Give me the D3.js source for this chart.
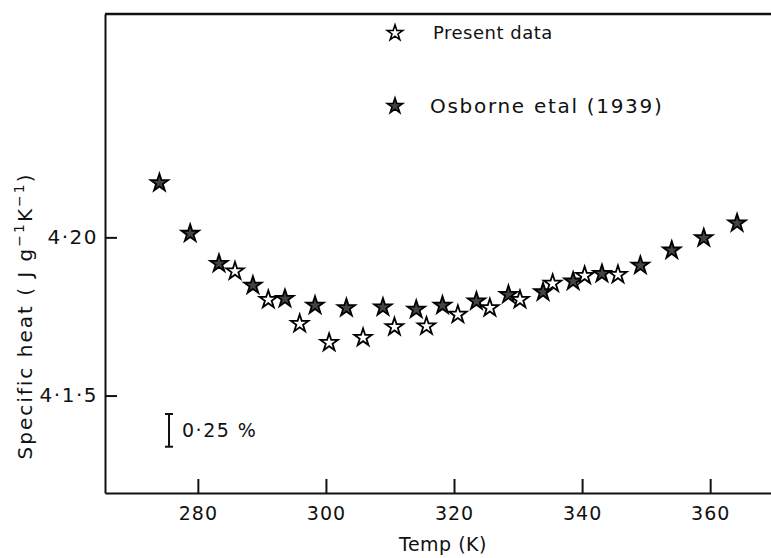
<!DOCTYPE html>
<html>
<head>
<meta charset="utf-8">
<script src="https://cdn.jsdelivr.net/npm/d3@7"></script>
<style>
  body { margin: 0; background: #fff; }
  svg text { font-family: "DejaVu Sans", sans-serif; fill: #111; }
</style>
</head>
<body>
<div class="canvas"></div>
<script>
const dimensions = { width: 771, height: 558 };

// data
const presentT = [285.8, 291.0, 295.9, 300.5, 305.8, 310.7, 315.7, 320.6, 325.6, 330.3, 335.4, 340.4, 345.6];
const presentCp = [4.1893, 4.1803, 4.1727, 4.1667, 4.1683, 4.1717, 4.1719, 4.1756, 4.1777, 4.1803, 4.1854, 4.1879, 4.1882];
const osborneT = [274.0, 278.8, 283.3, 288.6, 293.6, 298.3, 303.2, 308.9, 314.1, 318.2, 323.5, 328.5, 333.9, 338.6, 343.1, 349.1, 354.0, 359.0, 364.2];
const osborneCp = [4.2172, 4.2012, 4.1917, 4.1848, 4.1806, 4.1785, 4.1777, 4.1779, 4.1772, 4.1785, 4.1798, 4.1819, 4.1827, 4.1861, 4.1885, 4.1911, 4.1959, 4.1998, 4.2045];
const xTicks = [280, 300, 320, 340, 360];
const yTicks = [4.20, 4.15];
const yTickLabels = ['4·20', '4·1·5'];
const legendLabels = ['Present data', 'Osborne etal (1939)'];
const errorCentre = 4.139;
const errorPct = 0.25;

const present = presentT.map((t, i) => ({ t, cp: presentCp[i] }));
const osborne = osborneT.map((t, i) => ({ t, cp: osborneCp[i] }));

const svg = d3.select('.canvas')
    .append('svg')
    .attr('width', dimensions.width)
    .attr('height', dimensions.height);

const x = d3.scaleLinear().domain([265.5, 369.5]).range([105, 771]);
const y = d3.scaleLinear().domain([4.1192, 4.2706]).range([493, 14]);

// axes, ticks pointing inward
const xAxis = svg.append('g')
    .attr('transform', `translate(0, ${y.range()[0]})`)
    .call(d3.axisBottom(x).tickValues(xTicks).tickSize(-14).tickSizeOuter(0).tickPadding(14));

const yAxis = svg.append('g')
    .attr('transform', `translate(${x.range()[0]}, 0)`)
    .call(d3.axisLeft(y).tickValues(yTicks).tickSize(-12).tickSizeOuter(0).tickPadding(7)
        .tickFormat((d, i) => yTickLabels[i]));

[xAxis, yAxis].forEach(a => {
    a.selectAll('path, line').attr('stroke', '#111').attr('stroke-width', 2);
    a.selectAll('text').attr('fill', '#111')
        .attr('font-family', '"DejaVu Sans", sans-serif');
});
xAxis.selectAll('text').attr('font-size', 19).attr('letter-spacing', 1);
yAxis.selectAll('text').attr('font-size', 20).attr('letter-spacing', 1.5);

// top border
svg.append('line')
    .attr('x1', x.range()[0]).attr('x2', x.range()[1])
    .attr('y1', y.range()[1]).attr('y2', y.range()[1])
    .attr('stroke', '#111').attr('stroke-width', 2.5);

// axis titles
svg.append('text')
    .attr('x', 443).attr('y', 551)
    .attr('text-anchor', 'middle')
    .attr('font-size', 19)
    .attr('letter-spacing', 0.5)
    .text('Temp (K)');

const yTitle = svg.append('text')
    .attr('transform', 'translate(32, 316) rotate(-90)')
    .attr('text-anchor', 'middle')
    .attr('font-size', 20)
    .attr('letter-spacing', 2);
yTitle.append('tspan').text('Specific heat ( J g');
yTitle.append('tspan').attr('font-size', 14).attr('dy', -8).text('−1');
yTitle.append('tspan').attr('dy', 8).text('K');
yTitle.append('tspan').attr('font-size', 14).attr('dy', -8).text('−1');
yTitle.append('tspan').attr('dy', 8).text(')');

// star markers
const star = d3.symbol().type(d3.symbolStar).size(95);

svg.selectAll('.osborne')
    .data(osborne)
    .enter()
    .append('path')
        .attr('class', 'osborne')
        .attr('d', star)
        .attr('transform', d => `translate(${x(d.t)}, ${y(d.cp)})`)
        .attr('fill', '#444')
        .attr('stroke', '#000')
        .attr('stroke-width', 1.8);

svg.selectAll('.present')
    .data(present)
    .enter()
    .append('path')
        .attr('class', 'present')
        .attr('d', star)
        .attr('transform', d => `translate(${x(d.t)}, ${y(d.cp)})`)
        .attr('fill', '#fff')
        .attr('stroke', '#000')
        .attr('stroke-width', 1.8);

// legend
const legendStar = d3.symbol().type(d3.symbolStar).size(75);
const legend = svg.selectAll('.legend')
    .data(legendLabels)
    .enter()
    .append('g')
        .attr('class', 'legend')
        .attr('transform', (d, i) => `translate(395, ${i === 0 ? 33 : 106})`);

legend.append('path')
    .attr('d', legendStar)
    .attr('fill', (d, i) => i === 0 ? '#fff' : '#444')
    .attr('stroke', '#000')
    .attr('stroke-width', 1.6);

legend.append('text')
    .attr('x', (d, i) => i === 0 ? 38 : 35)
    .attr('dy', '0.36em')
    .attr('font-size', (d, i) => i === 0 ? 18 : 20)
    .attr('letter-spacing', (d, i) => i === 0 ? 0.5 : 1.7)
    .text(d => d);

// 0.25 % error bar
const half = errorCentre * errorPct / 100 / 2;
const ebX = 169;
const eb = svg.append('g').attr('stroke', '#111').attr('stroke-width', 2);
eb.append('line').attr('x1', ebX).attr('x2', ebX)
    .attr('y1', y(errorCentre + half)).attr('y2', y(errorCentre - half));
[errorCentre + half, errorCentre - half].forEach(v => {
    eb.append('line').attr('x1', ebX - 4).attr('x2', ebX + 4)
        .attr('y1', y(v)).attr('y2', y(v));
});
svg.append('text')
    .attr('x', 182).attr('y', y(errorCentre))
    .attr('dy', '0.36em')
    .attr('font-size', 19)
    .attr('letter-spacing', 1.5)
    .text('0·25 %');
</script>
</body>
</html>
